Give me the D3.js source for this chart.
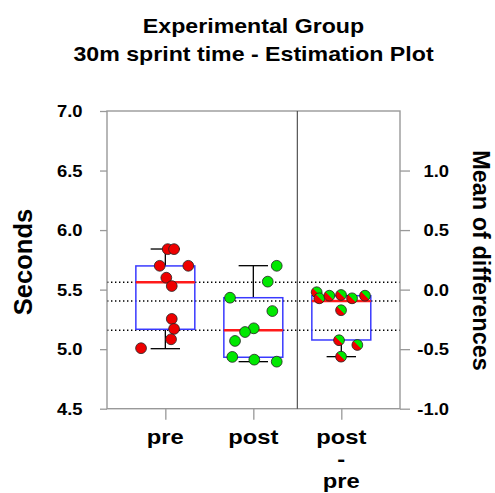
<!DOCTYPE html>
<html><head><meta charset="utf-8">
<script src="https://cdn.jsdelivr.net/npm/d3@7"></script>
<style>
body{margin:0;background:#fff}
text{font-family:"Liberation Sans",Arial,sans-serif;font-weight:bold;fill:#000}
</style>
</head><body>
<svg id="c" width="495" height="493"></svg>
<script>
const titleLines = ["Experimental Group", "30m sprint time - Estimation Plot"];
const yLabelLeft = "Seconds";
const yLabelRight = "Mean of differences";
const categories = [["pre"], ["post"], ["post", "-", "pre"]];
const leftTicks = [4.5, 5.0, 5.5, 6.0, 6.5, 7.0];
const rightTicks = [-1.0, -0.5, 0.0, 0.5, 1.0];

const preValues  = [5.84, 5.84, 5.70, 5.70, 5.60, 5.53, 5.254, 5.17, 5.083, 5.008];
const preJitter  = [0.027, 0.099, -0.064, 0.261, 0.011, 0.073, 0.073, 0.099, 0.065, -0.276];
const postValues = [5.70, 5.567, 5.432, 5.32, 5.175, 5.144, 5.069, 4.935, 4.912, 4.895];
const postJitter = [0.266, 0.164, -0.265, 0.216, 0.005, -0.094, -0.208, -0.239, 0.011, 0.266];
const diffValues = [-0.022, -0.073, -0.051, -0.045, -0.073, -0.051, -0.173, -0.425, -0.465, -0.563];
const diffJitter = [-0.280, -0.250, -0.136, -0.003, 0.122, 0.269, -0.003, -0.026, 0.182, -0.003];

// box stats: [low whisker, q1, median, q3, high whisker]
const preBox  = [5.004, 5.167, 5.562, 5.699, 5.841];
const postBox = [4.895, 4.932, 5.159, 5.432, 5.701];
const diffBox = [-0.563, -0.423, -0.095, -0.051, -0.051];

const svg = d3.select("#c");
const L = 107, R = 400, T = 111, B = 408.7;
const x = d3.scaleLinear().domain([-0.663, 2.667]).range([L, R]);
const y = d3.scaleLinear().domain([4.5, 7.0]).range([B, T]);
const yR = d3.scaleLinear().domain([-1.0, 1.5]).range([B, T]);

// gradient for difference dots
const defs = svg.append("defs");
const g = defs.append("linearGradient").attr("id", "half")
  .attr("x1", 1).attr("y1", 0).attr("x2", 0).attr("y2", 1);
g.append("stop").attr("offset", "0%").attr("stop-color", "#00e800");
g.append("stop").attr("offset", "50%").attr("stop-color", "#00e800");
g.append("stop").attr("offset", "50%").attr("stop-color", "#ee0000");
g.append("stop").attr("offset", "100%").attr("stop-color", "#ee0000");

// titles
titleLines.forEach((t, i) => {
  svg.append("text").attr("text-anchor", "middle")
    .attr("transform", `translate(253.5,${[32.5, 61][i]}) scale(1.13,1)`)
    .style("font-size", "20.5px").text(t);
});

// dotted reference lines (medians)
[y(preBox[2]), yR(diffBox[2]), y(postBox[2])].forEach(yy => {
  svg.append("line").attr("x1", L).attr("x2", R).attr("y1", yy).attr("y2", yy)
    .attr("stroke", "#000").attr("stroke-width", 1.4).attr("stroke-dasharray", "1.4,2.6");
});

// frame
svg.append("rect").attr("x", L).attr("y", T).attr("width", R - L).attr("height", B - T)
  .attr("fill", "none").attr("stroke", "#999").attr("stroke-width", 1.4);
svg.append("line").attr("x1", x(1.5)).attr("x2", x(1.5)).attr("y1", T).attr("y2", B)
  .attr("stroke", "#444").attr("stroke-width", 1.1);

// axes
const fmt = d => d.toFixed(1);
const la = svg.append("g").attr("transform", `translate(${L},0)`)
  .call(d3.axisLeft(y).tickValues(leftTicks).tickSize(7).tickFormat(fmt));
la.select(".domain").remove();
la.selectAll("line").attr("stroke", "#999").attr("stroke-width", 1.3);
la.selectAll("text").attr("x", null).attr("dy", null).attr("text-anchor", "end")
  .attr("transform", "translate(-24.5,5.7) scale(1.15,1)").style("font-size", "16px").attr("fill", "#000");

const ra = svg.append("g").attr("transform", `translate(${R},0)`)
  .call(d3.axisRight(yR).tickValues(rightTicks).tickSize(10).tickFormat(fmt));
ra.select(".domain").remove();
ra.selectAll("line").attr("stroke", "#999").attr("stroke-width", 1.3);
ra.selectAll("text").attr("x", null).attr("dy", null).attr("text-anchor", "end")
  .attr("transform", "translate(49,5.7) scale(1.15,1)").style("font-size", "16px").attr("fill", "#000");

const xa = svg.append("g").attr("transform", `translate(0,${B})`)
  .call(d3.axisBottom(x).tickValues(categories.map((c, i) => i)).tickSize(11).tickFormat(""));
xa.select(".domain").remove();
xa.selectAll("line").attr("stroke", "#999").attr("stroke-width", 1.3);

categories.forEach((lines, i) => {
  lines.forEach((t, j) => {
    svg.append("text").attr("text-anchor", "middle")
      .attr("transform", `translate(${x(i)},${444 + j * 22}) scale(1.16,1)`)
      .style("font-size", "20.5px").text(t);
  });
});

// axis titles
svg.append("text").attr("text-anchor", "middle")
  .attr("transform", "translate(31.5,262) rotate(-90)")
  .style("font-size", "25.5px").text(yLabelLeft);
svg.append("text").attr("text-anchor", "middle")
  .attr("transform", "translate(473,260.5) rotate(90)")
  .style("font-size", "23.5px").text(yLabelRight);

// boxes
const hw = 0.335, cw = 0.167;
function drawBox(i, st, sc) {
  const cx = x(i);
  const wg = svg.append("g").attr("stroke", "#000").attr("stroke-width", 1.3);
  if (st[4] > st[3]) {
    wg.append("line").attr("x1", cx).attr("x2", cx).attr("y1", sc(st[3])).attr("y2", sc(st[4]));
    wg.append("line").attr("x1", x(i - cw)).attr("x2", x(i + cw)).attr("y1", sc(st[4])).attr("y2", sc(st[4]));
  }
  if (st[0] < st[1]) {
    wg.append("line").attr("x1", cx).attr("x2", cx).attr("y1", sc(st[1])).attr("y2", sc(st[0]));
    wg.append("line").attr("x1", x(i - cw)).attr("x2", x(i + cw)).attr("y1", sc(st[0])).attr("y2", sc(st[0]));
  }
  svg.append("rect").attr("x", x(i - hw)).attr("width", x(i + hw) - x(i - hw))
    .attr("y", sc(st[3])).attr("height", sc(st[1]) - sc(st[3]))
    .attr("fill", "none").attr("stroke", "#3a3aff").attr("stroke-width", 1.5);
  svg.append("line").attr("x1", x(i - hw)).attr("x2", x(i + hw))
    .attr("y1", sc(st[2])).attr("y2", sc(st[2]))
    .attr("stroke", "#ff1a1a").attr("stroke-width", 2.6);
}
drawBox(0, preBox, y);
drawBox(1, postBox, y);
drawBox(2, diffBox, yR);

// dots
function drawDots(i, vals, jit, sc, fill) {
  svg.append("g").selectAll("circle").data(vals).join("circle")
    .attr("cx", (d, k) => x(i + jit[k])).attr("cy", d => sc(d))
    .attr("r", 5.4).attr("fill", fill).attr("stroke", "#222").attr("stroke-width", 0.8);
}
drawDots(0, preValues, preJitter, y, "#ee0000");
drawDots(1, postValues, postJitter, y, "#00e800");
drawDots(2, diffValues, diffJitter, yR, "url(#half)");
</script>
</body></html>
